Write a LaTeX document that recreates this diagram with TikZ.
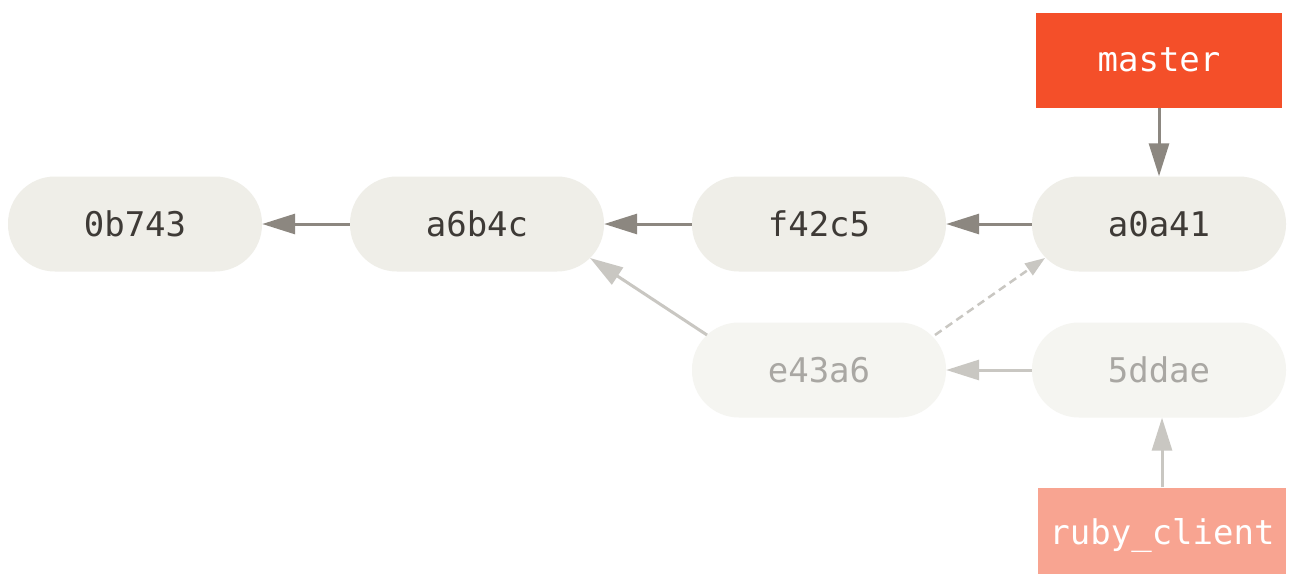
\documentclass[tikz,border=0pt]{standalone}
\usepackage{fontspec}
\setmonofont{DejaVu Sans Mono}
\usetikzlibrary{arrows.meta}
\definecolor{commitfill}{HTML}{EFEEE8}
\definecolor{fadefill}{HTML}{F5F5F1}
\definecolor{committext}{HTML}{3E3A36}
\definecolor{fadetext}{HTML}{A9A7A3}
\definecolor{darkarrow}{HTML}{8C8780}
\definecolor{lightarrow}{HTML}{C9C7C2}
\definecolor{masterred}{HTML}{F44F29}
\definecolor{rubypink}{HTML}{F8A491}
\tikzset{
  commit/.style={rectangle, rounded corners=47pt, minimum width=254pt, minimum height=95pt,
    fill=commitfill, text=committext, font=\ttfamily\fontsize{34}{40}\selectfont, inner sep=0pt},
  fadecommit/.style={commit, fill=fadefill, text=fadetext},
  branch/.style={rectangle, minimum width=246pt, minimum height=95pt, text=white,
    font=\ttfamily\fontsize{34}{40}\selectfont, inner sep=0pt},
  darrow/.style={draw=darkarrow, line width=3pt, -{Triangle[length=33pt,width=20pt]}, color=darkarrow},
  larrow/.style={draw=lightarrow, line width=3pt, -{Triangle[length=33pt,width=20pt]}, color=lightarrow},
}
\begin{document}
\begin{tikzpicture}[x=1pt,y=-1pt]
\clip (0,0) rectangle (1290,573);
\fill[white] (0,0) rectangle (1290,573);
\node[commit] (c1) at (135,224) {0b743};
\node[commit] (c2) at (477,224) {a6b4c};
\node[commit] (c3) at (819,224) {f42c5};
\node[commit] (c4) at (1159,224) {a0a41};
\node[fadecommit] (c5) at (819,370) {e43a6};
\node[fadecommit] (c6) at (1159,370) {5ddae};
\node[branch, fill=masterred] (master) at (1159,60) {master};
\node[branch, fill=rubypink, minimum width=248pt] (ruby) at (1162,535) {ruby\_client};
\draw[darrow] (c2.west) -- (c1.east);
\draw[darrow] (c3.west) -- (c2.east);
\draw[darrow] (c4.west) -- (c3.east);
\draw[darrow] (master.south) -- (c4.north);
\coordinate (e1) at (707,335);
\coordinate (t1) at (590,258);
\coordinate (e2) at (935,335);
\coordinate (t2) at (1045,258);
\draw[larrow] (e1) -- (t1);
\draw[larrow, dash pattern=on 8pt off 5pt, line width=2.5pt, -{Triangle[length=20pt,width=14pt]}] (e2) -- (t2);
\draw[larrow] (c6.west) -- (c5.east);
\draw[larrow] (ruby.north) -- (ruby.north |- c6.south);
\end{tikzpicture}
\end{document}
